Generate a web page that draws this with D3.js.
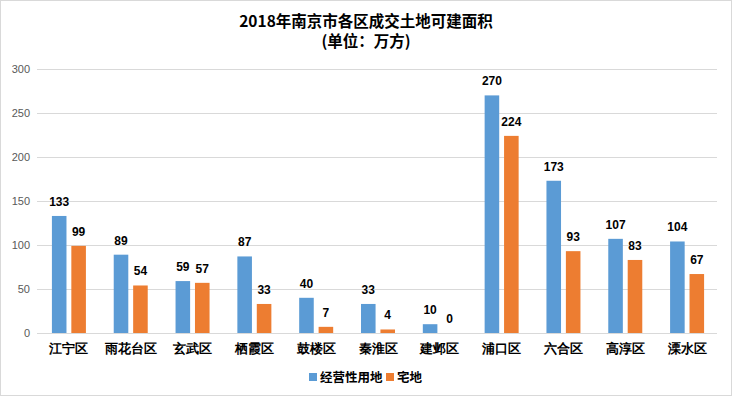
<!DOCTYPE html>
<html>
<head>
<meta charset="utf-8">
<script src="https://cdn.jsdelivr.net/npm/d3@7"></script>
<style>
  body { margin: 0; background: #fff; }
  svg { display: block; font-family: "Noto Sans CJK SC", "Liberation Sans", sans-serif; }
</style>
</head>
<body>
<svg width="732" height="396"></svg>
<script>
var districts = ["江宁区","雨花台区","玄武区","栖霞区","鼓楼区","秦淮区","建邺区","浦口区","六合区","高淳区","溧水区"];
var commercial = [133, 89, 59, 87, 40, 33, 10, 270, 173, 107, 104];
var residential = [99, 54, 57, 33, 7, 4, 0, 224, 93, 83, 67];
var seriesNames = ["经营性用地", "宅地"];
var yTicks = [0, 50, 100, 150, 200, 250, 300];

var colors = ["#5b9bd5", "#ed7d31"];
var svg = d3.select("svg");

svg.append("rect")
   .attr("x", 0.5).attr("y", 0.5)
   .attr("width", 731).attr("height", 395)
   .attr("fill", "#fff").attr("stroke", "#d9d9d9");

// title
svg.append("text").attr("x", 366).attr("y", 27)
   .attr("text-anchor", "middle").style("font-size", "15.5px").style("font-weight", "bold")
   .text("2018年南京市各区成交土地可建面积");
svg.append("text").attr("x", 366).attr("y", 47)
   .attr("text-anchor", "middle").style("font-size", "15.5px").style("font-weight", "bold")
   .text("(单位：万方)");

var x = d3.scaleBand().domain(districts).range([38, 718]);
var y = d3.scaleLinear().domain([0, 300]).range([333, 69]);
var sub = d3.scaleBand().domain([0, 1]).range([-17, 17]).paddingInner(0.25);

// gridlines
svg.selectAll("line.grid")
   .data(yTicks)
   .enter()
   .append("line")
   .attr("x1", 37).attr("x2", 717)
   .attr("y1", function(d) { return Math.round(y(d)) + 0.5; })
   .attr("y2", function(d) { return Math.round(y(d)) + 0.5; })
   .attr("stroke", "#d9d9d9");

var yAxis = svg.append("g")
   .attr("transform", "translate(30,0)")
   .call(d3.axisLeft(y).tickValues(yTicks).tickSize(0).tickPadding(0));
yAxis.select(".domain").remove();
yAxis.selectAll("text")
   .style("font-family", "Liberation Sans, sans-serif")
   .style("font-size", "11px").attr("fill", "#595959");

var xAxis = svg.append("g")
   .attr("transform", "translate(0,333)")
   .call(d3.axisBottom(x).tickSize(0).tickPadding(11));
xAxis.select(".domain").remove();
xAxis.selectAll("text")
   .style("font-size", "13px").style("font-weight", "bold").attr("fill", "#000");

var rows = [commercial, residential];
rows.forEach(function(vals, s) {
  var g = svg.append("g");
  g.selectAll("rect")
   .data(vals)
   .enter()
   .append("rect")
   .attr("x", function(d, i) { return x(districts[i]) + x.bandwidth() / 2 + sub(s); })
   .attr("y", function(d) { return y(d); })
   .attr("width", sub.bandwidth())
   .attr("height", function(d) { return y(0) - y(d); })
   .attr("fill", colors[s]);
  g.selectAll("text")
   .data(vals)
   .enter()
   .append("text")
   .attr("x", function(d, i) { return x(districts[i]) + x.bandwidth() / 2 + sub(s) + sub.bandwidth() / 2; })
   .attr("y", function(d) { return y(d) - 10; })
   .attr("text-anchor", "middle")
   .style("font-family", "Liberation Sans, sans-serif")
   .style("font-size", "12px").style("font-weight", "bold")
   .text(function(d) { return d; });
});

// legend
var legend = svg.append("g").attr("transform", "translate(309,377)");
var lx = [0, 77];
seriesNames.forEach(function(name, s) {
  legend.append("rect").attr("x", lx[s]).attr("y", -4).attr("width", 8).attr("height", 8).attr("fill", colors[s]);
  legend.append("text").attr("x", lx[s] + 11).attr("y", 4.5)
        .style("font-size", "12.5px").style("font-weight", "bold").text(name);
});
</script>
</body>
</html>
